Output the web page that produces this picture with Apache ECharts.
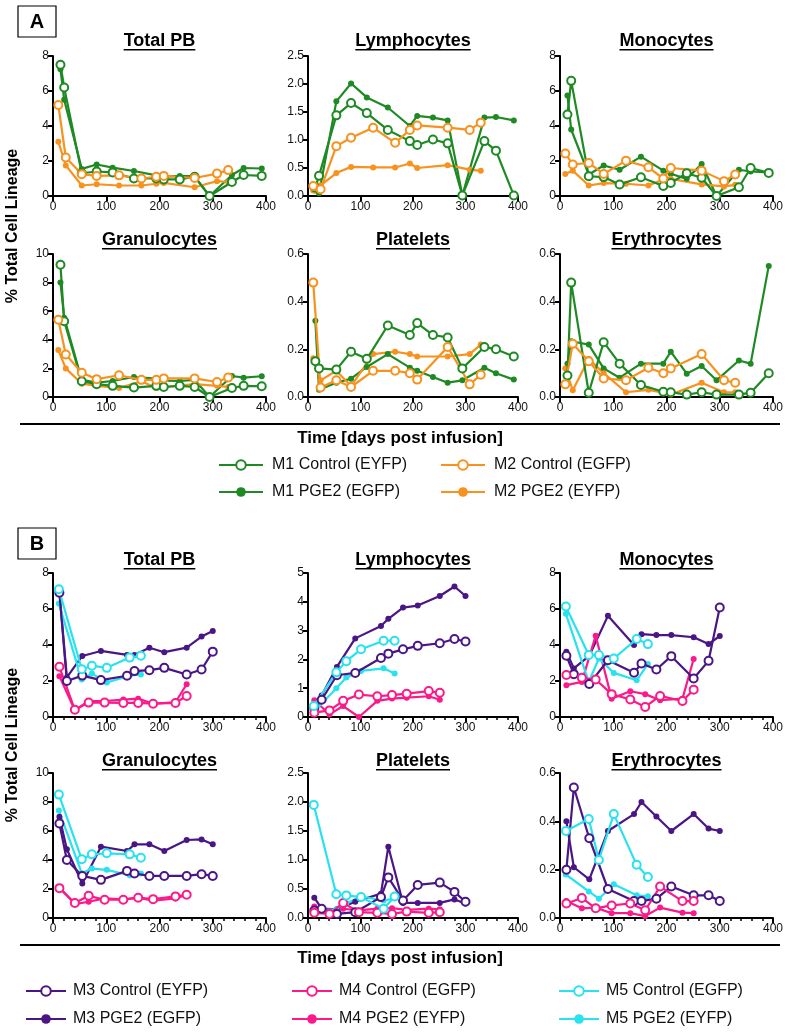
<!DOCTYPE html>
<html><head><meta charset="utf-8">
<script src="https://cdn.jsdelivr.net/npm/echarts@6/dist/echarts.min.js"></script>
<style>html,body{margin:0;padding:0;background:#fff}#c{width:792px;height:1034px}</style>
</head><body><div id="c"></div>
<script>
// ---------- time points (days post infusion) ----------
const daysM1 = [14,21,54,82,112,152,194,208,238,266,294,336,358,392];
const daysM2 = [10,24,54,82,124,166,194,208,266,308,329];
const daysM3 = [12,26,55,90,139,153,181,209,251,279,300];
const daysM4 = [12,41,67,97,132,160,188,230,251];
const daysM5 = [11,54,73,101,144,165];

// ---------- Panel A ----------
const aTotal_M1c = [7.5,6.2,1.3,1.4,1.35,1.0,1.0,0.95,0.95,1.1,0,0.8,1.2,1.15];
const aTotal_M1p = [7.25,5.5,1.55,1.8,1.62,1.43,1.18,1.1,1.15,1.12,0,1.2,1.6,1.57];
const aTotal_M2c = [5.2,2.2,1.25,1.15,1.18,1.0,1.1,1.15,1.03,1.28,1.48];
const aTotal_M2p = [3.1,1.75,0.6,0.67,0.6,0.6,0.7,0.75,0.5,0.85,0.8];

const aLym_M1c = [0.15,0.36,1.44,1.66,1.48,1.18,0.98,0.91,1.01,0.94,0.01,0.98,0.81,0.01];
const aLym_M1p = [0.1,0.05,1.69,2.01,1.76,1.58,1.25,1.43,1.40,1.35,0.01,1.40,1.41,1.35];
const aLym_M2c = [0.18,0.12,0.89,1.04,1.22,0.95,1.18,1.26,1.22,1.18,1.31];
const aLym_M2p = [0.1,0.19,0.41,0.52,0.51,0.51,0.58,0.5,0.55,0.47,0.45];

const aMon_M1c = [4.66,6.58,1.13,1.08,0.66,1.07,0.57,0.75,1.3,1.04,0,0.5,1.6,1.32];
const aMon_M1p = [5.75,3.8,1.23,1.74,1.5,2.25,1.45,1.27,0.98,1.83,0,1.5,1.4,1.35];
const aMon_M2c = [2.43,1.8,1.89,1.26,2.02,1.64,1.0,1.6,1.45,0.85,1.23];
const aMon_M2p = [1.26,1.45,0.6,0.74,0.7,0.6,0.94,0.98,0.66,0.55,0.64];

const aGra_M1c = [9.25,5.3,1.1,0.9,0.78,0.66,0.78,0.7,0.78,0.7,0,0.63,0.78,0.75];
const aGra_M1p = [8.0,5.55,1.2,1.0,1.12,1.4,1.28,1.15,1.12,1.2,0,1.47,1.35,1.45];
const aGra_M2c = [5.4,2.97,1.7,1.25,1.52,1.2,1.2,1.3,1.3,1.05,1.36];
const aGra_M2p = [3.28,2.0,0.93,0.78,0.63,1.1,0.63,0.7,0.9,0.78,0.7];

const aPla_M1c = [0.15,0.12,0.115,0.19,0.16,0.30,0.26,0.31,0.26,0.25,0.12,0.21,0.2,0.17];
const aPla_M1p = [0.32,0.03,0.06,0.077,0.126,0.18,0.123,0.11,0.084,0.06,0.07,0.123,0.1,0.073];
const aPla_M2c = [0.48,0.04,0.07,0.042,0.11,0.11,0.1,0.073,0.21,0.053,0.093];
const aPla_M2p = [0.163,0.07,0.11,0.046,0.18,0.19,0.18,0.17,0.17,0.18,0.22];

const aEry_M1c = [0.09,0.48,0.018,0.23,0.14,0.05,0.022,0.02,0.01,0.02,0.01,0.01,0.018,0.1];
const aEry_M1p = [0.14,0.234,0.22,0.12,0.081,0.14,0.14,0.19,0.098,0.13,0.07,0.153,0.14,0.55];
const aEry_M2c = [0.053,0.223,0.15,0.078,0.07,0.123,0.1,0.12,0.18,0.07,0.06];
const aEry_M2p = [0.12,0.028,0.16,0.1,0.02,0.03,0.018,0.01,0.06,0.02,0.02];

// ---------- Panel B ----------
const bTotal_M3c = [6.9,2.0,2.3,2.05,2.29,2.55,2.6,2.73,2.36,2.64,3.63];
const bTotal_M3p = [7.0,2.2,3.39,3.67,3.45,3.44,3.85,3.6,3.85,4.47,4.78];
const bTotal_M4c = [2.79,0.4,0.8,0.8,0.78,0.78,0.74,0.78,1.17];
const bTotal_M4p = [2.27,0.37,0.89,0.89,0.97,1.02,0.74,0.82,1.82];
const bTotal_M5c = [7.1,2.65,2.85,2.73,3.3,3.4];
const bTotal_M5p = [6.3,2.08,2.42,1.92,2.3,2.36];

const bLym_M3c = [0.3,0.6,1.45,1.53,2.05,2.2,2.35,2.47,2.56,2.71,2.62];
const bLym_M3p = [0.4,0.75,1.74,2.73,3.16,3.41,3.8,3.87,4.2,4.53,4.2];
const bLym_M4c = [0.15,0.23,0.56,0.78,0.72,0.76,0.81,0.9,0.84];
const bLym_M4p = [0.58,0.09,0.38,0.0,0.56,0.64,0.67,0.72,0.6];
const bLym_M5c = [0.38,1.55,1.94,2.35,2.65,2.65];
const bLym_M5p = [0.17,1.0,1.37,1.6,1.69,1.51];

const bMon_M3c = [3.4,2.38,1.83,3.15,2.46,2.97,2.64,3.38,2.14,3.12,6.08];
const bMon_M3p = [3.63,2.7,3.4,5.62,4.0,4.6,4.55,4.55,4.43,4.05,4.5];
const bMon_M4c = [2.33,2.18,2.08,1.27,0.97,0.56,1.17,0.89,1.52];
const bMon_M4p = [1.77,1.95,4.52,1.02,1.43,1.27,0.93,1.02,3.22];
const bMon_M5c = [6.14,3.44,3.44,3.25,4.33,4.05];
const bMon_M5p = [5.73,1.95,3.25,2.45,2.04,2.94];

const bGra_M3c = [6.52,4.0,2.9,2.63,3.25,3.07,2.9,2.9,2.9,3.02,2.9];
const bGra_M3p = [6.98,4.74,2.38,4.92,4.62,5.08,5.08,4.62,5.38,5.42,5.08];
const bGra_M4c = [2.06,1.03,1.53,1.26,1.26,1.4,1.3,1.49,1.6];
const bGra_M4p = [2.1,0.96,1.12,1.35,1.28,1.4,1.19,1.35,1.6];
const bGra_M5c = [8.51,4.05,4.39,4.46,4.39,4.16];
const bGra_M5p = [7.41,3.09,3.41,3.32,2.95,3.07];

const bPla_M3c = [0.13,0.16,0.07,0.1,0.36,0.7,0.3,0.57,0.61,0.45,0.28];
const bPla_M3p = [0.35,0.16,0.15,0.28,0.42,1.23,0.26,0.26,0.26,0.32,0.25];
const bPla_M4c = [0.09,0.07,0.26,0.1,0.09,0.07,0.11,0.09,0.1];
const bPla_M4p = [0.2,0.09,0.16,0.13,0.16,0.17,0.14,0.16,0.15];
const bPla_M5c = [1.95,0.41,0.39,0.36,0.16,0.37];
const bPla_M5p = [0.13,0.15,0.25,0.37,0.3,0.34];

const bEry_M3c = [0.2,0.54,0.33,0.12,0.07,0.07,0.08,0.13,0.094,0.094,0.07];
const bEry_M3p = [0.4,0.21,0.16,0.36,0.43,0.48,0.42,0.36,0.43,0.37,0.36];
const bEry_M4c = [0.06,0.083,0.04,0.052,0.06,0.032,0.13,0.07,0.07];
const bEry_M4p = [0.07,0.04,0.043,0.02,0.02,0.008,0.043,0.022,0.02];
const bEry_M5c = [0.36,0.41,0.24,0.43,0.22,0.17];
const bEry_M5p = [0.18,0.11,0.08,0.14,0.094,0.09];

// ---------- labels ----------
const panelTitles = ['Total PB','Lymphocytes','Monocytes','Granulocytes','Platelets','Erythrocytes'];
const seriesNamesA = ['M1 Control (EYFP)','M1 PGE2 (EGFP)','M2 Control (EGFP)','M2 PGE2 (EYFP)'];
const seriesNamesB = ['M3 Control (EYFP)','M3 PGE2 (EGFP)','M4 Control (EGFP)','M4 PGE2 (EYFP)','M5 Control (EGFP)','M5 PGE2 (EYFP)'];
const xTicks = [0,100,200,300,400];
const yLabel = '% Total Cell Lineage';
const xLabel = 'Time [days post infusion]';

// ---------- styling / layout ----------
const GREEN = '#1f8a24', ORANGE = '#f7921e', PURPLE = '#4a1585', MAGENTA = '#fb1a8a', CYAN = '#28e2ee';
const FONT = '"Liberation Sans", Arial, Helvetica, sans-serif';
const colX = [[53,266],[308,518],[560,773]];
const rowY = [[56,196],[254,397],[573,717],[773,918]];

const groupsA = [
  {name: seriesNamesA[0], days: daysM1, color: GREEN, open: true},
  {name: seriesNamesA[1], days: daysM1, color: GREEN, open: false},
  {name: seriesNamesA[2], days: daysM2, color: ORANGE, open: true},
  {name: seriesNamesA[3], days: daysM2, color: ORANGE, open: false}
];
const groupsB = [
  {name: seriesNamesB[0], days: daysM3, color: PURPLE, open: true},
  {name: seriesNamesB[1], days: daysM3, color: PURPLE, open: false},
  {name: seriesNamesB[2], days: daysM4, color: MAGENTA, open: true},
  {name: seriesNamesB[3], days: daysM4, color: MAGENTA, open: false},
  {name: seriesNamesB[4], days: daysM5, color: CYAN, open: true},
  {name: seriesNamesB[5], days: daysM5, color: CYAN, open: false}
];

const panels = [
  {row:0,col:0,title:panelTitles[0],max:8,step:2,dec:0,groups:groupsA,vals:[aTotal_M1c,aTotal_M1p,aTotal_M2c,aTotal_M2p]},
  {row:0,col:1,title:panelTitles[1],max:2.5,step:0.5,dec:1,groups:groupsA,vals:[aLym_M1c,aLym_M1p,aLym_M2c,aLym_M2p]},
  {row:0,col:2,title:panelTitles[2],max:8,step:2,dec:0,groups:groupsA,vals:[aMon_M1c,aMon_M1p,aMon_M2c,aMon_M2p]},
  {row:1,col:0,title:panelTitles[3],max:10,step:2,dec:0,groups:groupsA,vals:[aGra_M1c,aGra_M1p,aGra_M2c,aGra_M2p]},
  {row:1,col:1,title:panelTitles[4],max:0.6,step:0.2,dec:1,groups:groupsA,vals:[aPla_M1c,aPla_M1p,aPla_M2c,aPla_M2p]},
  {row:1,col:2,title:panelTitles[5],max:0.6,step:0.2,dec:1,groups:groupsA,vals:[aEry_M1c,aEry_M1p,aEry_M2c,aEry_M2p]},
  {row:2,col:0,title:panelTitles[0],max:8,step:2,dec:0,groups:groupsB,minor:true,vals:[bTotal_M3c,bTotal_M3p,bTotal_M4c,bTotal_M4p,bTotal_M5c,bTotal_M5p]},
  {row:2,col:1,title:panelTitles[1],max:5,step:1,dec:0,groups:groupsB,minor:true,vals:[bLym_M3c,bLym_M3p,bLym_M4c,bLym_M4p,bLym_M5c,bLym_M5p]},
  {row:2,col:2,title:panelTitles[2],max:8,step:2,dec:0,groups:groupsB,minor:true,vals:[bMon_M3c,bMon_M3p,bMon_M4c,bMon_M4p,bMon_M5c,bMon_M5p]},
  {row:3,col:0,title:panelTitles[3],max:10,step:2,dec:0,groups:groupsB,minor:true,vals:[bGra_M3c,bGra_M3p,bGra_M4c,bGra_M4p,bGra_M5c,bGra_M5p]},
  {row:3,col:1,title:panelTitles[4],max:2.5,step:0.5,dec:1,groups:groupsB,minor:true,vals:[bPla_M3c,bPla_M3p,bPla_M4c,bPla_M4p,bPla_M5c,bPla_M5p]},
  {row:3,col:2,title:panelTitles[5],max:0.6,step:0.2,dec:1,groups:groupsB,minor:true,vals:[bEry_M3c,bEry_M3p,bEry_M4c,bEry_M4p,bEry_M5c,bEry_M5p]}
];
const titleY = [41, 240, 560, 761];

const grids = [], xAxes = [], yAxes = [], series = [], graphics = [];
const measure = document.createElement('canvas').getContext('2d');
measure.font = 'bold 18px ' + FONT;

panels.forEach((p, i) => {
  const [x0, x1] = colX[p.col], [y0, y1] = rowY[p.row];
  grids.push({left: x0, top: y0, width: x1 - x0, height: y1 - y0, containLabel: false});
  const axisLine = {show: true, onZero: false, lineStyle: {color: '#000', width: 2}};
  xAxes.push({
    type: 'value', gridIndex: i, min: xTicks[0], max: xTicks[xTicks.length-1], interval: xTicks[1]-xTicks[0],
    axisLine, axisTick: {show: true, length: 5, lineStyle: {color: '#000', width: 2}},
    minorTick: {show: !!p.minor, splitNumber: 5, length: 3, lineStyle: {color: '#000', width: 1.5}},
    axisLabel: {fontFamily: FONT, fontSize: 12, color: '#111', margin: 5},
    splitLine: {show: false}
  });
  yAxes.push({
    type: 'value', gridIndex: i, min: 0, max: p.max, interval: p.step,
    axisLine, axisTick: {show: true, length: 5, lineStyle: {color: '#000', width: 2}},
    axisLabel: {fontFamily: FONT, fontSize: 12, color: '#111', margin: 4,
      formatter: v => v.toFixed(p.dec)},
    splitLine: {show: false}
  });
  p.groups.forEach((g, k) => {
    series.push({
      type: 'line', name: g.name, xAxisIndex: i, yAxisIndex: i,
      data: g.days.map((d, j) => [d, p.vals[k][j]]),
      symbol: g.open ? 'emptyCircle' : 'circle',
      symbolSize: g.open ? 8 : 6,
      showAllSymbol: true,
      lineStyle: {color: g.color, width: 2.2},
      itemStyle: {color: g.color, borderColor: g.color, borderWidth: g.open ? 1.8 : 0},
      emphasis: {disabled: true},
      animation: false,
      z: g.open ? 3 : 2
    });
  });
  // title with underline
  const cx = (x0 + x1) / 2, ty = titleY[p.row];
  const w = measure.measureText(p.title).width;
  graphics.push({type: 'text', x: cx, y: ty, style: {text: p.title, font: 'bold 18px ' + FONT, fill: '#000', align: 'center', verticalAlign: 'middle'}});
  graphics.push({type: 'rect', shape: {x: cx - w/2, y: ty + 8, width: w, height: 1.6}, style: {fill: '#000'}});
});

// panel letters, axis titles, separators
[['A', 6], ['B', 528]].forEach(([t, y]) => {
  graphics.push({type: 'rect', shape: {x: 18, y: y, width: 38, height: 31}, style: {fill: '#fff', stroke: '#000', lineWidth: 1.2}});
  graphics.push({type: 'text', x: 37, y: y + 16, style: {text: t, font: 'bold 20px ' + FONT, fill: '#000', align: 'center', verticalAlign: 'middle'}});
});
[226, 745].forEach(cy => {
  graphics.push({type: 'text', x: 13, y: cy, rotation: Math.PI / 2,
    style: {text: yLabel, font: 'bold 16px ' + FONT, fill: '#000', align: 'center', verticalAlign: 'middle'}});
});
[[423, 438], [944, 958]].forEach(([ly, ty]) => {
  graphics.push({type: 'rect', shape: {x: 20, y: ly, width: 760, height: 2}, style: {fill: '#000'}});
  graphics.push({type: 'text', x: 400, y: ty, style: {text: xLabel, font: 'bold 17px ' + FONT, fill: '#000', align: 'center', verticalAlign: 'middle'}});
});

// legends
const legendPos = [
  [seriesNamesA[0], 218, 466, 44], [seriesNamesA[2], 440, 466, 44],
  [seriesNamesA[1], 218, 493, 44], [seriesNamesA[3], 440, 493, 44],
  [seriesNamesB[0], 25, 992, 40], [seriesNamesB[2], 291, 992, 40], [seriesNamesB[4], 558, 992, 40],
  [seriesNamesB[1], 25, 1020, 40], [seriesNamesB[3], 291, 1020, 40], [seriesNamesB[5], 558, 1020, 40]
];
const legends = legendPos.map(([n, x, y, w]) => ({
  data: [n], left: x, top: y - 9, itemWidth: w, itemHeight: 12, itemGap: 0, padding: 0,
  selectedMode: false,
  textStyle: {fontFamily: FONT, fontSize: 16, color: '#111', padding: [0, 0, 0, w === 40 ? 2 : 4]}
}));

const chart = echarts.init(document.getElementById('c'), null, {renderer: 'canvas'});
chart.setOption({
  animation: false,
  backgroundColor: '#fff',
  grid: grids, xAxis: xAxes, yAxis: yAxes, series: series,
  legend: legends, graphic: graphics
});
</script></body></html>
